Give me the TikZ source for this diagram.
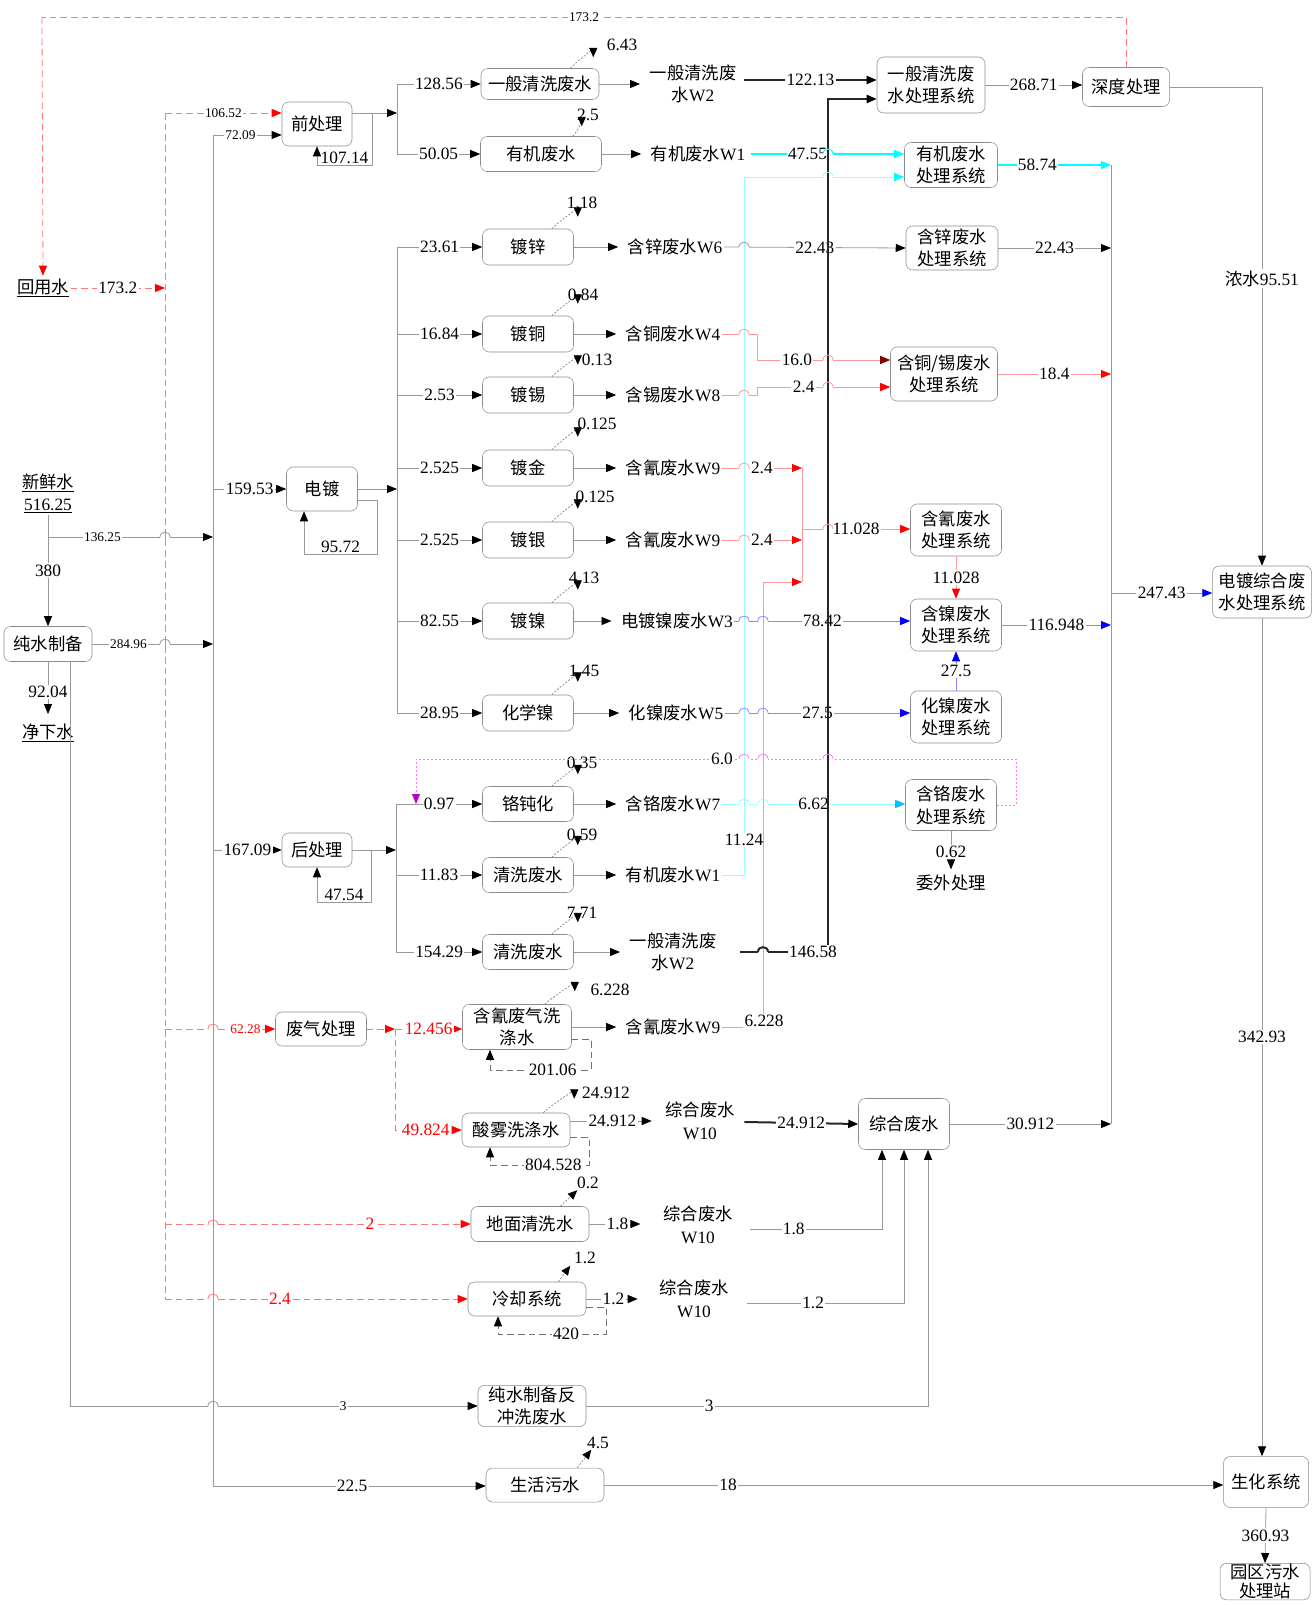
\documentclass[tikz,border=0pt]{standalone}
\usepackage{fontspec}
\setmainfont{Liberation Serif}
\newfontfamily\zh{Noto Sans CJK SC}
\usepackage{tikz}
\usetikzlibrary{arrows.meta, positioning, calc}
\usepackage{xcolor}

\definecolor{lnred}{HTML}{FF9999}
\definecolor{dsred}{HTML}{FF7777}
\definecolor{lncyan}{HTML}{00FFFF}
\definecolor{lgcyan}{HTML}{99FFFF}
\definecolor{skyblue}{HTML}{00BFFF}
\definecolor{lnblue}{HTML}{8888FF}
\definecolor{lnmag}{HTML}{FF77FF}
\definecolor{tipmag}{HTML}{BB00CC}
\definecolor{darkred}{HTML}{7F0000}

\newcommand{\fsz}{\fontsize{13}{16}\selectfont}
\newcommand{\fss}{\fontsize{10}{12}\selectfont}
\newcommand{\fbx}{\fontsize{13}{17}\selectfont}
% 跨线小弧
\newcommand{\hop}[4]{%
  \fill[white] ({#1-5},{#2-2.2}) rectangle ({#1+5},{#2+2.2});
  \draw[#4] (#1,{#2-3.5}) -- (#1,{#2+3.5});
  \draw[#3] ({#1-5},#2) .. controls ({#1-5},{#2-6.5}) and ({#1+5},{#2-6.5}) .. ({#1+5},#2);}

\begin{document}
\begin{tikzpicture}[x=0.75pt, y=-0.75pt,
        box/.style={draw=black!45, rounded corners=5pt, fill=white, align=center, inner sep=1pt, font=\zh\fbx},
        sz/.style 2 args={minimum width=#1, minimum height=#2},
        txt/.style={align=center, inner sep=1pt, font=\zh\fbx},
        lab/.style={fill=white, inner sep=1pt, font=\fsz},
        labs/.style={fill=white, inner sep=1pt, font=\fss},
        gl/.style={draw=black!40, line width=0.6pt},
        fl/.style={gl, -{Triangle[length=7.5pt,width=6pt,color=black]}},
        thk/.style={draw=black!85, line width=1.5pt},
        thka/.style={thk, -{Triangle[length=7.5pt,width=6pt,color=black]}},
        pk/.style={draw=lnred, line width=0.6pt},
        pka/.style={pk, -{Triangle[length=7.5pt,width=6pt,color=red]}},
        pkd/.style={pk, -{Triangle[length=7.5pt,width=6pt,color=darkred]}},
        rds/.style={draw=dsred, line width=0.6pt},
        rd/.style={rds, dash pattern=on 5pt off 3pt},
        rda/.style={rd, -{Triangle[length=7.5pt,width=6pt,color=red]}},
        cy/.style={draw=lncyan, line width=0.8pt},
        cya/.style={cy, -{Triangle[length=7.5pt,width=6pt,color=lncyan]}},
        lc/.style={draw=lgcyan, line width=0.6pt},
        lca/.style={lc, -{Triangle[length=7.5pt,width=6pt,color=lncyan]}},
        lcb/.style={lc, -{Triangle[length=7.5pt,width=6pt,color=skyblue]}},
        bl/.style={draw=lnblue, line width=0.6pt},
        bla/.style={bl, -{Triangle[length=7.5pt,width=6pt,color=blue]}},
        mgs/.style={draw=lnmag, line width=0.6pt},
        mga/.style={mgs, dash pattern=on 1.5pt off 1.5pt, -{Triangle[length=7.5pt,width=6pt,color=tipmag]}},
        gda/.style={draw=black!55, line width=0.6pt, dash pattern=on 5pt off 3pt, -{Triangle[length=7.5pt,width=6pt,color=black]}},
        ev/.style={draw=black!50, line width=0.5pt, dash pattern=on 1.5pt off 1.2pt, -{Triangle[length=7pt,width=6pt,color=black]}}
    ]
    \useasboundingbox (0,0) rectangle (1312,1605);

    % 水源
    \node[txt] (hys) at (43,288) {\underline{回用水}};
    \node[txt] (xxs) at (48,483) {\underline{新鲜水}};
    \node[lab, fill=none] (xxsn) at (48,506) {\underline{516.25}};
    \node[box, sz={66pt}{26.25pt}] (csz) at (48,644) {纯水制备};
    \node[txt] (jxs) at (48,733) {\underline{净下水}};

    % 生产工序
    \node[box, sz={52.5pt}{33pt}] (qcl) at (317,124) {前处理};
    \node[box, sz={88.5pt}{23.25pt}] (yb1) at (540,84) {一般清洗废水};
    \node[box, sz={90.75pt}{26.25pt}] (yj1) at (541,154) {有机废水};
    \node[box, sz={53.25pt}{33pt}] (dd) at (322,489) {电镀};
    \foreach \bn/\tx/\yy in {dx/镀锌/247, dt/镀铜/334, ds/镀锡/395, dj/镀金/468, dy/镀银/540, dn/镀镍/621, hxn/化学镍/713}
        \node[box, sz={68.25pt}{27pt}] (\bn) at (528,\yy) {\tx};
    \node[box, sz={52.5pt}{25.5pt}] (hcl) at (317,850) {后处理};
    \node[box, sz={68.25pt}{26.25pt}] (gdh) at (528,804) {铬钝化};
    \node[box, sz={68.25pt}{26.25pt}] (qx1) at (528,875) {清洗废水};
    \node[box, sz={68.25pt}{26.25pt}] (qx2) at (528,952) {清洗废水};
    \node[box, sz={68.25pt}{25.5pt}] (fq) at (321,1029) {废气处理};
    \node[box, sz={81.75pt}{33.75pt}] (hqx) at (517,1027) {含氰废气洗\\涤水};
    \node[box, sz={81pt}{25.5pt}] (swx) at (516,1130) {酸雾洗涤水};
    \node[box, sz={88.5pt}{26.25pt}] (dmq) at (530,1224) {地面清洗水};
    \node[box, sz={88.5pt}{25.5pt}] (lq) at (527,1299) {冷却系统};
    \node[box, sz={81pt}{30pt}] (fcx) at (532,1406) {纯水制备反\\冲洗废水};
    \node[box, sz={88.5pt}{25.5pt}] (shw) at (545,1485) {生活污水};

    % 废水名称
    \node[txt] (w2a) at (693,84) {一般清洗废\\水\textrm{W2}};
    \node[txt] (w1a) at (698,154) {有机废水\textrm{W1}};
    \node[txt] (w6) at (675,247) {含锌废水\textrm{W6}};
    \node[txt] (w4) at (673,334) {含铜废水\textrm{W4}};
    \node[txt] (w8) at (673,395) {含锡废水\textrm{W8}};
    \node[txt] (w9a) at (673,468) {含氰废水\textrm{W9}};
    \node[txt] (w9b) at (673,540) {含氰废水\textrm{W9}};
    \node[txt] (w3) at (677,621) {电镀镍废水\textrm{W3}};
    \node[txt] (w5) at (676,713) {化镍废水\textrm{W5}};
    \node[txt] (w7) at (673,804) {含铬废水\textrm{W7}};
    \node[txt] (w1b) at (673,875) {有机废水\textrm{W1}};
    \node[txt] (w2b) at (673,952) {一般清洗废\\水\textrm{W2}};
    \node[txt] (w9c) at (673,1027) {含氰废水\textrm{W9}};
    \node[txt] (w10a) at (700,1121) {综合废水\\\textrm{W10}};
    \node[txt] (w10b) at (698,1225) {综合废水\\\textrm{W10}};
    \node[txt] (w10c) at (694,1299) {综合废水\\\textrm{W10}};

    % 处理系统
    \node[box, sz={81pt}{42pt}] (t1) at (931,85) {一般清洗废\\水处理系统};
    \node[box, sz={65.25pt}{29.25pt}] (sd) at (1126,87) {深度处理};
    \node[box, sz={69.75pt}{33.75pt}] (tyj) at (951,165) {有机废水\\处理系统};
    \node[box, sz={69pt}{33pt}] (tzn) at (952,248) {含锌废水\\处理系统};
    \node[box, sz={80.25pt}{40.5pt}] (tcu) at (944,374) {含铜/锡废水\\处理系统};
    \node[box, sz={68.25pt}{39pt}] (tcn) at (956,530) {含氰废水\\处理系统};
    \node[box, sz={68.25pt}{39pt}] (tni) at (956,625) {含镍废水\\处理系统};
    \node[box, sz={68.25pt}{39pt}] (thn) at (956,717) {化镍废水\\处理系统};
    \node[box, sz={68.25pt}{38.25pt}] (tcr) at (951,805) {含铬废水\\处理系统};
    \node[txt] (wwcl) at (951,883) {委外处理};
    \node[box, sz={68.25pt}{38.25pt}] (zhfs) at (904,1124) {综合废水};
    \node[box, sz={74.25pt}{39pt}] (ddz) at (1262,592) {电镀综合废\\水处理系统};
    \node[box, sz={63.75pt}{38.25pt}] (shx) at (1266,1482) {生化系统};
    \node[box, sz={67.5pt}{0pt}, inner sep=0.5pt, anchor=north, font=\zh\fontsize{13}{14.5}\selectfont] (yq) at (1265,1563) {园区污水\\处理站};

    % 折点
    \coordinate (top) at (42,17);
    \coordinate (rbus) at (165,113);
    \coordinate (gbus) at (213,135);
    \coordinate (gbusend) at (213,1486);
    \coordinate (fw) at (48,537);
    \coordinate (qb) at (397,113);
    \coordinate (qr) at (372,165);
    \coordinate (eb) at (397,248);
    \coordinate (er) at (377,554);
    \coordinate (hb) at (396,804);
    \coordinate (hr) at (371,902);
    \coordinate (fqj) at (395,1029);
    \coordinate (cv) at (744,177);
    \coordinate (bk) at (828,99);
    \coordinate (cuj) at (757,360);
    \coordinate (snj) at (757,387);
    \coordinate (cnm) at (802,468);
    \coordinate (cnb) at (802,582);
    \coordinate (cno) at (802,529);
    \coordinate (rv) at (763,582);
    \coordinate (colt) at (1111,165);
    \coordinate (colo) at (1111,593);
    \coordinate (mgr) at (1016,759);
    \coordinate (mgl) at (416,759);
    \coordinate (hqr) at (591,1070);
    \coordinate (swr) at (589,1165);
    \coordinate (lqr) at (606,1334);

    % 回用水
    \draw[rd] (sd.north) -- (sd.north |- top) -- node[labs]{173.2} (top);
    \draw[rda, shorten >=1pt] (top) -- (hys.north);
    \draw[rda] (hys.east) -- node[lab]{173.2} (hys.east -| rbus);
    \draw[rd] (rbus) -- (rbus |- lq);
    \draw[rda] (rbus) -- node[labs]{106.52} (qcl.west |- rbus);
    \draw[rda] (rbus |- fq) -- node[labs, text=red, pos=0.73]{62.28} (fq.west);
    \draw[rda] (rbus |- dmq) -- node[lab, text=red, pos=0.67]{2} (dmq.west);
    \draw[rda] (rbus |- lq) -- node[lab, text=red, pos=0.38]{2.4} (lq.west);

    % 新鲜水、纯水
    \draw[fl] (xxsn.south) -- node[lab]{380} (csz.north);
    \draw[fl] (fw) -- node[labs, pos=0.33]{136.25} (fw -| gbus);
    \draw[gl] (gbus) -- (gbusend);
    \draw[fl] (csz.east) -- node[labs, pos=0.3]{284.96} (csz.east -| gbus);
    \draw[fl, shorten >=6pt] (csz.south) -- node[lab]{92.04} (jxs.north);
    \draw[fl] ($(csz.south)+(22,0)$) |- node[labs, pos=0.835]{3} (fcx.west);
    \draw[fl] (gbus) -- node[labs, pos=0.4]{72.09} (qcl.west |- gbus);
    \draw[fl] (gbus |- dd) -- node[lab]{159.53} (dd.west);
    \draw[fl] (gbus |- hcl) -- node[lab]{167.09} (hcl.west);
    \draw[fl] (gbusend) -- node[lab, pos=0.51]{22.5} (gbusend -| shw.west);

    % 前处理
    \draw[fl] (qb -| qcl.east) -- (qb);
    \draw[gl] (qb |- yb1) -- (qb |- yj1);
    \draw[fl] (qb |- yb1) -- node[lab]{128.56} (yb1.west);
    \draw[fl] (qb |- yj1) -- node[lab]{50.05} (yj1.west);
    \draw[fl] (qr |- qb) -- (qr) -| node[lab, fill=none, above, pos=0.25]{107.14} (qcl.south);

    % 电镀
    \draw[fl] (dd.east) -- (dd.east -| eb);
    \draw[gl] (eb) -- (eb |- hxn);
    \foreach \bn/\val in {dx/23.61, dt/16.84, ds/2.53, dj/2.525, dy/2.525, dn/82.55, hxn/28.95}
        \draw[fl] (eb |- \bn) -- node[lab]{\val} (\bn.west);
    \draw[fl] ($(dd.east)+(0,11)$) -| (er) -| node[lab, fill=none, above, pos=0.25]{95.72} ($(dd.south)+(-18,0)$);

    % 后处理
    \draw[fl] (hcl.east) -- (hcl.east -| hb);
    \draw[gl] (hb) -- (hb |- qx2);
    \draw[fl] (hb) -- node[lab]{0.97} (gdh.west);
    \draw[fl] (hb |- qx1) -- node[lab]{11.83} (qx1.west);
    \draw[fl] (hb |- qx2) -- node[lab]{154.29} (qx2.west);
    \draw[fl] (hr |- hcl) -- (hr) -| node[lab, fill=none, above, pos=0.25]{47.54} (hcl.south);

    % 废气处理
    \draw[rda] (fq.east) -- (fqj);
    \draw[rda] (fqj) -- node[lab, text=red]{12.456} (fqj -| hqx.west);
    \draw[rda] (fqj) |- node[lab, text=red, pos=0.73]{49.824} (swx.west);

    % 损耗
    \foreach \bn/\val/\sa/\eax/\eay/\lbx/\lby in {yb1/6.43/-29/-6/-11/622/45, yj1/2.5/-29/-20/-10/588/115,
            dx/1.18/-22/4/-12/582/203, dt/0.84/-22/4/-12/583/295, ds/0.13/-22/4/-12/597/360,
            dj/0.125/-22/4/-13/597/424, dy/0.125/-22/4/-13/595/497, dn/4.13/-22/4/-13/584/578,
            hxn/1.45/-22/4/-13/584/671, gdh/0.35/-22/4/-12/582/763, qx1/0.59/-22/4/-12/582/835,
            qx2/7.71/-22/4/-12/582/913, hqx/6.228/-27/3/-13/610/990, swx/24.912/-27/4/-14/606/1093}
    {
        \draw[ev] ($(\bn.north east)+(\sa,0)$) .. controls +(8,-8) and +(0,-8) .. ($(\bn.north east)+(\eax,\eay)$);
        \node[lab, fill=none] (\bn-ev) at (\lbx,\lby) {\val};
    }
    \foreach \bn/\val/\sa/\eax/\eay/\lbx/\lby in {dmq/0.2/-29/-12/-16/588/1183, lq/1.2/-28/-16/-16/585/1258, shw/4.5/-27/-13/-18/598/1443}
    {
        \draw[ev] ($(\bn.north east)+(\sa,0)$) -- ($(\bn.north east)+(\eax,\eay)$);
        \node[lab, fill=none] (\bn-ev) at (\lbx,\lby) {\val};
    }

    % 工序出水
    \foreach \bn/\wn in {yb1/w2a, yj1/w1a, dx/w6, dt/w4, ds/w8, dj/w9a, dy/w9b, dn/w3, hxn/w5, gdh/w7, qx1/w1b, qx2/w2b, hqx/w9c}
        \draw[fl, shorten >=6pt] (\bn.east) -- (\bn.east -| \wn.west);
    \draw[fl, shorten >=9pt] (swx.east |- w10a) -- node[lab, pos=0.45]{24.912} (w10a.west);
    \draw[fl, shorten >=16pt] (dmq.east) -- node[lab, pos=0.39]{1.8} (dmq.east -| w10b.west);
    \draw[fl, shorten >=15pt] (lq.east) -- node[lab, pos=0.38]{1.2} (lq.east -| w10c.west);

    % 循环水
    \draw[gda] ($(hqx.east)+(0,12)$) -| (hqr) -| node[lab, pos=0.19]{201.06} ($(hqx.south)+(-27,0)$);
    \draw[gda] ($(swx.east)+(0,7)$) -| (swr) -| node[lab, pos=0.18]{804.528} ($(swx.south)+(-26,0)$);
    \draw[gda] ($(lq.east)+(0,8)$) -| (lqr) -| node[lab, pos=0.185]{420} ($(lq.south)+(-29,0)$);

    % 分质处理
    \draw[thka] ($(w2a.east)+(6,-4)$) -- node[lab]{122.13} ($(t1.west)+(0,-5)$);
    \draw[cya] ($(w1a.east)+(4,0)$) -- node[lab, pos=0.37]{47.55} ($(tyj.west)+(0,-11)$);
    \draw[lca] (w1b.east) -- (w1b.east -| cv) -- node[lab, pos=0.05]{11.24} (cv) -- ($(tyj.west)+(0,12)$);
    \draw[fl] (w6.east) -- node[lab]{22.43} (tzn.west);
    \draw[pkd] (w4.east) -| (cuj) -- node[lab, pos=0.3]{16.0} ($(tcu.west)+(0,-14)$);
    \draw[pka] (w8.east) -| (snj) -- node[lab, pos=0.35]{2.4} ($(tcu.west)+(0,13)$);
    \draw[pka] (w9a.east) -- node[lab]{2.4} (w9a.east -| cnm);
    \draw[pka] (w9b.east) -- node[lab]{2.4} (w9b.east -| cnm);
    \draw[pk] (cnm) -- (cnb);
    \node[lab] (l6228) at (764,1021) {6.228};
    \draw[pk] (w9c.east) -- (w9c.east -| l6228.west);
    \draw[pka] (l6228.north -| rv) -- (rv) -- (cnb);
    \draw[pka] (cno) -- node[lab]{11.028} (cno -| tcn.west);
    \draw[pka] (tcn.south) -- node[lab]{11.028} (tni.north);
    \draw[bla] (w3.east) -- node[lab]{78.42} (w3.east -| tni.west);
    \draw[bla] (thn.north) -- node[lab]{27.5} (tni.south);
    \draw[bla] (w5.east) -- node[lab]{27.5} (w5.east -| thn.west);
    \draw[lcb] (w7.east) -- node[lab]{6.62} (w7.east -| tcr.west);
    \draw[mga] (tcr.east) -| (mgr) -- node[lab, pos=0.49]{6.0} (mgl) -- (mgl |- gdh);
    \draw[fl, shorten >=3pt] (tcr.south) -- node[lab]{0.62} (wwcl.north);
    \node[lab] (v14658) at (813,952) {146.58};
    \draw[thk] ($(w2b.east)+(22,0)$) -- (v14658.west);
    \draw[thka] (v14658.north -| bk) -- (bk) -- (bk -| t1.west);

    % 汇总
    \draw[fl] (t1.east) -- node[lab]{268.71} (t1.east -| sd.west);
    \draw[cya] (tyj.east) -- node[lab, pos=0.35]{58.74} (tyj.east -| colt);
    \draw[fl] (tzn.east) -- node[lab]{22.43} (tzn.east -| colt);
    \draw[pka] (tcu.east) -- node[lab]{18.4} (tcu.east -| colt);
    \draw[bla] (tni.east) -- node[lab]{116.948} (tni.east -| colt);
    \draw[gl] (colt) -- (colt |- zhfs);
    \draw[bla] (colo) -- node[lab]{247.43} (colo -| ddz.west);
    \draw[thka] ($(w10a.east)+(8,1)$) -- node[lab]{24.912} (zhfs.west);
    \draw[fl] (zhfs.east) -- node[lab]{30.912} (zhfs.east -| colt);
    \draw[fl] ($(w10b.east)+(16,4)$) -| node[lab, pos=0.165]{1.8} ($(zhfs.south)+(-22,0)$);
    \draw[fl] ($(w10c.east)+(17,4)$) -| node[lab, pos=0.21]{1.2} (zhfs.south);
    \draw[fl] (fcx.east) -| node[lab, pos=0.18]{3} ($(zhfs.south)+(24,0)$);
    \draw[fl] (sd.east) -| node[lab, pos=0.7]{{\zh 浓水}95.51} (ddz.north);
    \draw[fl] (ddz.south) -- node[lab]{342.93} (ddz.south |- shx.north);
    \draw[fl] (shw.east) -- node[lab, pos=0.2]{18} (shw.east -| shx.west);
    \draw[fl] (shx.south) -- node[lab]{360.93} (yq.north);

    % 跨线
    \foreach \hx/\hy/\hs/\vs in {165/537/gl/rds, 165/644/gl/rds, 213/1029/rds/gl, 213/1225/rds/gl, 213/1299/rds/gl,
            213/1406/gl/gl, 744/247/gl/lc, 744/334/pk/lc, 744/395/pk/lc, 744/468/pk/lc, 744/540/pk/lc,
            744/621/bl/lc, 744/713/bl/lc, 744/759/mgs/lc, 744/804/lc/lc, 763/621/bl/pk, 763/713/bl/pk,
            763/759/mgs/pk, 763/804/lc/pk, 763/952/thk/pk, 828/154/cy/thk, 828/177/lc/thk, 828/360/pk/thk,
            828/387/pk/thk, 828/529/pk/thk, 828/759/mgs/thk}
        \hop{\hx}{\hy}{\hs}{\vs};
\end{tikzpicture}
\end{document}
